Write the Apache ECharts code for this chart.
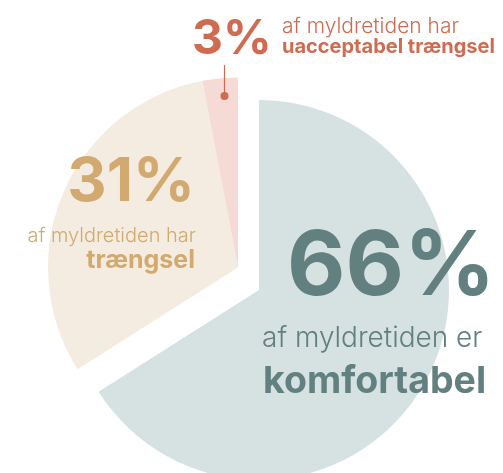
<!DOCTYPE html>
<html>
<head>
<meta charset="utf-8">
<script src="https://cdn.jsdelivr.net/npm/echarts@6/dist/echarts.min.js"></script>
<style>
  html, body { margin: 0; padding: 0; background: #fff; }
  #chart { width: 503px; height: 473px; }
</style>
</head>
<body>
<div id="chart"></div>
<script>
// data
const categories = ['komfortabel', 'trængsel', 'uacceptabel trængsel'];
const shares = [66, 31, 3];
const sliceColors = ['#d6e1e2', '#f4ece0', '#f5dad6'];
const textColors = ['#62807f', '#d2aa70', '#cf6b50'];

const FONT = 'Inter, "Noto Sans", sans-serif';

function txt(x, y, text, size, weight, color, align) {
  return {
    type: 'text', x: x, y: y, z: 10,
    style: {
      text: text, fontFamily: FONT, fontSize: size, fontWeight: weight,
      fill: color, align: align || 'left', verticalAlign: 'middle'
    }
  };
}

// one pie per group: the comfortable slice sits apart from the other two
function pie(center, shown) {
  return {
    type: 'pie',
    center: center,
    radius: 190,
    startAngle: 90,
    clockwise: true,
    silent: true,
    label: { show: false },
    labelLine: { show: false },
    data: categories.map((c, i) => ({
      name: c,
      value: shares[i],
      itemStyle: { color: shown.includes(i) ? sliceColors[i] : 'rgba(0,0,0,0)' }
    }))
  };
}

document.addEventListener('DOMContentLoaded', function() {
  const chart = echarts.init(document.getElementById('chart'));
  const option = {
    animation: false,
    series: [
      pie([238, 267.5], [1, 2]),
      pie([259, 290], [0])
    ],
    graphic: [
      // 66%
      txt(287, 268, shares[0] + '%', 90, 700, textColors[0]),
      txt(262, 338.5, 'af myldretiden er', 28, 300, textColors[0]),
      txt(263, 381.5, categories[0], 37.5, 700, textColors[0]),
      // 31%
      txt(195, 182.5, shares[1] + '%', 61, 700, textColors[1], 'right'),
      txt(196, 236, 'af myldretiden har', 20, 300, textColors[1], 'right'),
      txt(195, 260.5, categories[1], 25, 700, textColors[1], 'right'),
      // 3%
      txt(192, 39.5, shares[2] + '%', 48, 700, textColors[2]),
      txt(282, 26.7, 'af myldretiden har', 21, 300, textColors[2]),
      txt(282, 47, categories[2], 20, 700, textColors[2]),
      {
        type: 'line', z: 10,
        shape: { x1: 224.5, y1: 65, x2: 224.5, y2: 96 },
        style: { stroke: textColors[2], lineWidth: 1.2 }
      },
      {
        type: 'circle', z: 10,
        shape: { cx: 224.5, cy: 96, r: 4 },
        style: { fill: textColors[2] }
      }
    ]
  };
  chart.setOption(option);
});
</script>
</body>
</html>
